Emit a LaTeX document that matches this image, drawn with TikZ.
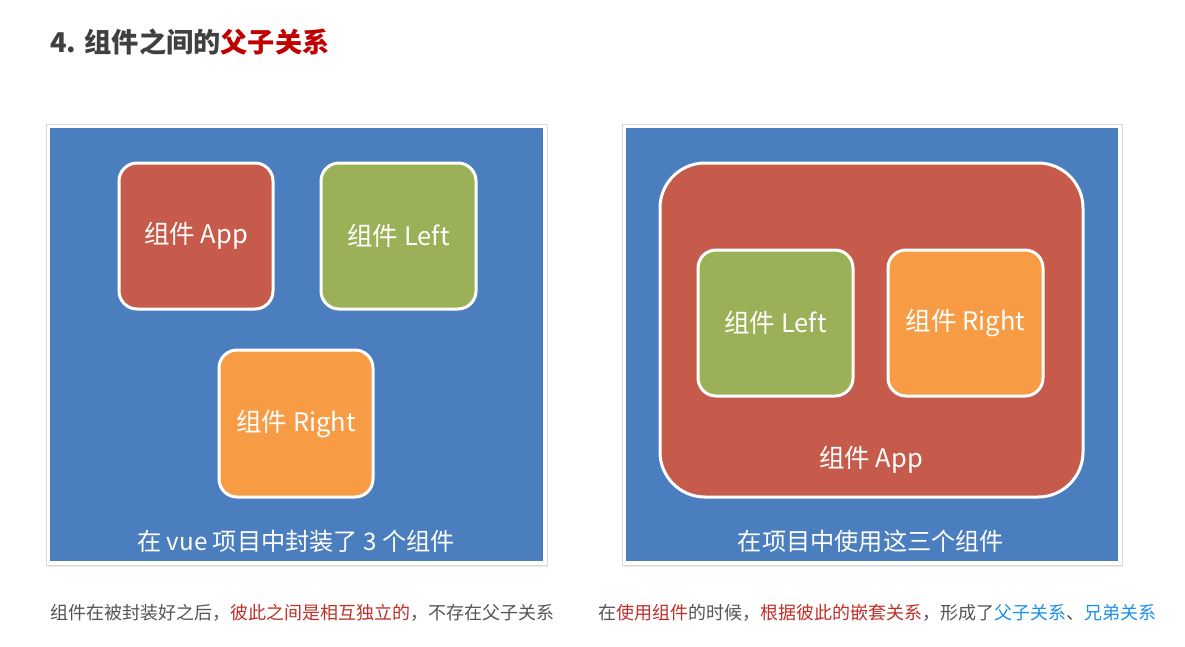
\documentclass[tikz,border=0pt]{standalone}
\usepackage{fontspec}
\setmainfont{Noto Sans CJK SC}
\usetikzlibrary{shadows}
\definecolor{panelblue}{HTML}{4A7EBF}
\definecolor{appred}{HTML}{C65B4B}
\definecolor{leftgreen}{HTML}{9BB157}
\definecolor{rightorange}{HTML}{F79C45}
\definecolor{titlegray}{HTML}{404040}
\definecolor{titlered}{HTML}{C00000}
\definecolor{textgray}{HTML}{555555}
\definecolor{textred}{HTML}{C0302A}
\definecolor{textblue}{HTML}{1E8FEA}
\tikzset{
  frame/.style={fill=white, draw=black!15, line width=0.8pt, inner sep=0pt,
    drop shadow={opacity=0.15, shadow xshift=0.5pt, shadow yshift=-1.5pt}},
  panel/.style={fill=panelblue, inner sep=0pt},
  comp/.style={draw=white, line width=3pt, rounded corners=18pt, inner sep=0pt,
    text=white, font=\fontsize{25.5}{30}\selectfont,
    drop shadow={opacity=0.2, shadow xshift=1pt, shadow yshift=-2pt}},
  caption/.style={text=white, font=\fontsize{24.2}{28}\selectfont, inner sep=0pt},
  note/.style={anchor=west, inner sep=0pt, text=textgray, font=\fontsize{18}{22}\selectfont},
}
\begin{document}
\begin{tikzpicture}[x=1pt,y=-1pt]
\useasboundingbox (0,0) rectangle (1185,646);
\fill[white] (0,0) rectangle (1185,646);
% title
\node[anchor=west, inner sep=0pt, text=titlegray, font=\fontsize{27.2}{32}\selectfont\bfseries] (title) at (50,42) {4. 组件之间的\textcolor{titlered}{父子关系}};
% left panel
\node[frame, minimum width=501pt, minimum height=441pt] (lframe) at (296.5,344.5) {};
\node[panel, minimum width=493pt, minimum height=433pt] (lpanel) at (296.5,344.5) {};
\node[comp, fill=appred, minimum width=154pt, minimum height=146pt] (lapp) at (196,236) {组件 App};
\node[comp, fill=leftgreen, minimum width=155pt, minimum height=146pt] (lleft) at (398.5,236) {组件 Left};
\node[comp, fill=rightorange, minimum width=154pt, minimum height=147pt] (lright) at (296,423.5) {组件 Right};
\node[caption] (lcap) at (296,541) {在 vue 项目中封装了 3 个组件};
% right panel
\node[frame, minimum width=500pt, minimum height=441pt] (rframe) at (872,344.5) {};
\node[panel, minimum width=492pt, minimum height=433pt] (rpanel) at (872,344.5) {};
\node[comp, fill=appred, rounded corners=45pt, minimum width=423pt, minimum height=334pt] (rapp) at (871.5,330) {};
\node[comp, fill=leftgreen, minimum width=155pt, minimum height=146pt] (rleft) at (775.5,323) {组件 Left};
\node[comp, fill=rightorange, minimum width=155pt, minimum height=146pt] (rright) at (965.5,323) {组件 Right};
\node[text=white, font=\fontsize{25.5}{30}\selectfont, inner sep=0pt] (rapplabel) at (871,460) {组件 App};
\node[caption] (rcap) at (871,541) {在项目中使用这三个组件};
% notes
\node[note] (lnote) at (50,613) {组件在被封装好之后，\textcolor{textred}{彼此之间是相互独立的}，不存在父子关系};
\node[note] (rnote) at (598,613) {在\textcolor{textred}{使用组件}的时候，\textcolor{textred}{根据彼此的嵌套关系}，形成了\textcolor{textblue}{父子关系}、\textcolor{textblue}{兄弟关系}};
\end{tikzpicture}
\end{document}
